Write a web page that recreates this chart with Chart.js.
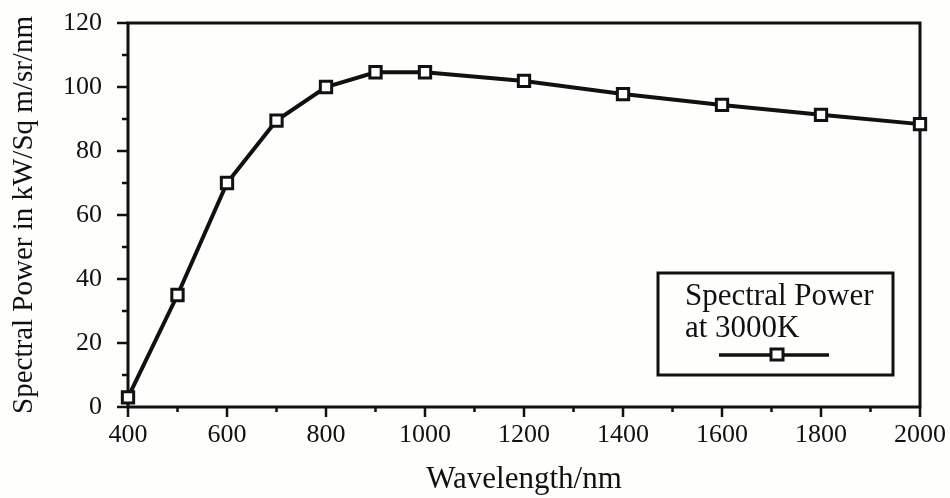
<!DOCTYPE html>
<html>
<head>
<meta charset="utf-8">
<script src="https://cdn.jsdelivr.net/npm/chart.js@4"></script>
<style>
  html, body { margin: 0; padding: 0; background: #fefefd; }
  #wrap { width: 950px; height: 498px; }
</style>
</head>
<body>
<div id="wrap"><canvas id="spectre"></canvas></div>
<script>
const wavelengths = [400, 500, 600, 700, 800, 900, 1000, 1200, 1400, 1600, 1800, 2000];
const power = [3, 35, 70, 89.5, 100, 104.6, 104.6, 101.9, 97.8, 94.4, 91.3, 88.4];
const seriesName = ['Spectral Power', 'at 3000K'];
const xMajor = [400, 600, 800, 1000, 1200, 1400, 1600, 1800, 2000];
const xMinor = [500, 700, 900, 1100, 1300, 1500, 1700, 1900];
const yMajor = [0, 20, 40, 60, 80, 100, 120];
const yMinor = [10, 30, 50, 70, 90, 110];

const serif = '"Liberation Serif", "Times New Roman", serif';

// cadre noir + petites graduations
const cadre = {
  id: 'cadre',
  beforeDatasetsDraw(chart) {
    const { ctx, chartArea: a, scales: { x, y } } = chart;
    ctx.save();
    ctx.strokeStyle = '#111';
    ctx.lineWidth = 3;
    ctx.strokeRect(a.left, a.top, a.right - a.left, a.bottom - a.top);
    ctx.lineWidth = 2.5;
    ctx.beginPath();
    xMajor.forEach(v => { const p = x.getPixelForValue(v); ctx.moveTo(p, a.bottom); ctx.lineTo(p, a.bottom + 10); });
    xMinor.forEach(v => { const p = x.getPixelForValue(v); ctx.moveTo(p, a.bottom); ctx.lineTo(p, a.bottom + 5); });
    yMajor.forEach(v => { const p = y.getPixelForValue(v); ctx.moveTo(a.left, p); ctx.lineTo(a.left - 11, p); });
    yMinor.forEach(v => { const p = y.getPixelForValue(v); ctx.moveTo(a.left, p); ctx.lineTo(a.left - 6, p); });
    ctx.stroke();
    ctx.restore();
  }
};

// légende encadrée dans le graphique
const legende = {
  id: 'legende',
  afterDraw(chart) {
    const ctx = chart.ctx;
    const ds = chart.data.datasets[0];
    ctx.save();
    ctx.strokeStyle = '#111';
    ctx.lineWidth = 3;
    ctx.strokeRect(658, 273, 235, 102);
    ctx.fillStyle = '#111';
    ctx.font = '31px ' + serif;
    ctx.textBaseline = 'alphabetic';
    ctx.fillText(ds.label[0], 685, 305);
    ctx.fillText(ds.label[1], 685, 337);
    ctx.lineWidth = 3.5;
    ctx.beginPath();
    ctx.moveTo(719, 355);
    ctx.lineTo(829, 355);
    ctx.stroke();
    ctx.lineWidth = 3;
    ctx.fillStyle = '#fff';
    ctx.fillRect(771, 349, 12, 11);
    ctx.strokeRect(771, 349, 12, 11);
    ctx.restore();
  }
};

new Chart(document.getElementById('spectre'), {
  type: 'line',
  data: {
    datasets: [{
      label: seriesName,
      data: wavelengths.map((w, i) => ({ x: w, y: power[i] })),
      borderColor: '#111',
      borderWidth: 4,
      pointStyle: 'rect',
      pointRadius: 8,
      pointBorderWidth: 3,
      pointBackgroundColor: '#fff',
      pointBorderColor: '#111',
      tension: 0,
      clip: false
    }]
  },
  options: {
    responsive: true,
    maintainAspectRatio: false,
    animation: false,
    layout: { padding: { top: 23, right: 30, left: 0, bottom: 0 } },
    plugins: { legend: { display: false }, tooltip: { enabled: false } },
    scales: {
      x: {
        type: 'linear',
        min: 400,
        max: 2000,
        afterBuildTicks: s => { s.ticks = xMajor.map(v => ({ value: v })); },
        afterFit: s => { s.height = 91; s.paddingLeft = 0; s.paddingRight = 0; },
        grid: { display: false, drawTicks: false },
        border: { display: false },
        ticks: { padding: 13, color: '#111', font: { family: serif, size: 26 }, maxRotation: 0, callback: v => String(v) },
        title: { display: true, text: 'Wavelength/nm', color: '#111', font: { family: serif, size: 31 }, padding: 0 }
      },
      y: {
        min: 0,
        max: 120,
        afterBuildTicks: s => { s.ticks = yMajor.map(v => ({ value: v })); },
        afterFit: s => { s.width = 128; s.paddingTop = 0; s.paddingBottom = 0; },
        grid: { display: false, drawTicks: false },
        border: { display: false },
        ticks: { padding: 26, color: '#111', font: { family: serif, size: 26 }, callback: v => String(v) },
        title: { display: true, text: 'Spectral Power in kW/Sq m/sr/nm', color: '#111', font: { family: serif, size: 29, lineHeight: 1 }, padding: { top: 10 } }
      }
    }
  },
  plugins: [cadre, legende]
});
</script>
</body>
</html>
